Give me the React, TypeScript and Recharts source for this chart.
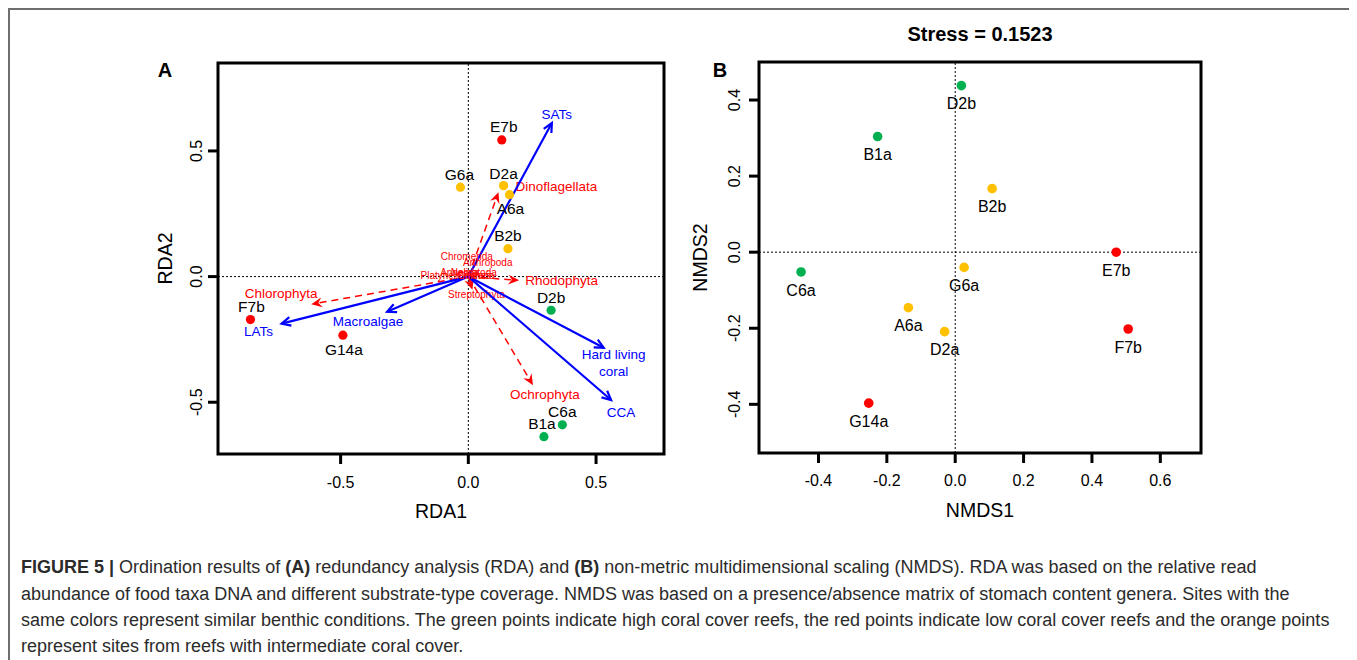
import React from 'react';
import { ScatterChart, Scatter, XAxis, YAxis, ReferenceLine, ReferenceArea } from 'recharts';

const FONT = '"Liberation Sans", Arial, Helvetica, sans-serif';

const COVER_COLORS: Record<string, string> = {
  high: '#00b050',
  low: '#ff0000',
  mid: '#ffc000',
};

// (A) RDA site scores
const rdaSites = [
  { name: 'E7b', x: 0.131, y: 0.544, cover: 'low' },
  { name: 'G6a', x: -0.031, y: 0.356, cover: 'mid' },
  { name: 'D2a', x: 0.138, y: 0.362, cover: 'mid' },
  { name: 'A6a', x: 0.161, y: 0.326, cover: 'mid' },
  { name: 'B2b', x: 0.155, y: 0.111, cover: 'mid' },
  { name: 'D2b', x: 0.324, y: -0.134, cover: 'high' },
  { name: 'F7b', x: -0.853, y: -0.171, cover: 'low' },
  { name: 'G14a', x: -0.491, y: -0.233, cover: 'low' },
  { name: 'C6a', x: 0.368, y: -0.59, cover: 'high' },
  { name: 'B1a', x: 0.296, y: -0.637, cover: 'high' },
];

// substrate vectors (blue, solid)
const substrateVectors = [
  { name: 'SATs', x: 0.327, y: 0.611 },
  { name: 'LATs', x: -0.731, y: -0.187 },
  { name: 'Macroalgae', x: -0.318, y: -0.14 },
  { name: 'Hard living coral', x: 0.53, y: -0.283 },
  { name: 'CCA', x: 0.559, y: -0.491 },
];

// food taxa vectors (red, dashed)
const taxaVectors = [
  { name: 'Dinoflagellata', x: 0.118, y: 0.336 },
  { name: 'Chlorophyta', x: -0.615, y: -0.11 },
  { name: 'Rhodophyta', x: 0.199, y: -0.015 },
  { name: 'Ochrophyta', x: 0.253, y: -0.432 },
  { name: 'Streptophyta', x: 0.016, y: -0.052 },
];

// taxa with near-zero vectors, only their labels show
const minorTaxa = [
  { name: 'Chromerida', x: -0.006, y: 0.078 },
  { name: 'Arthropoda', x: 0.076, y: 0.056 },
  { name: 'Platyhelminthes', x: -0.049, y: 0.006 },
  { name: 'Annelida', x: -0.034, y: 0.017 },
  { name: 'Nematoda', x: 0.021, y: 0.018 },
  { name: 'Cnidaria', x: 0.03, y: 0.006 },
];

// (B) NMDS site scores
const nmdsSites = [
  { name: 'D2b', x: 0.018, y: 0.438, cover: 'high' },
  { name: 'B1a', x: -0.227, y: 0.304, cover: 'high' },
  { name: 'B2b', x: 0.108, y: 0.167, cover: 'mid' },
  { name: 'E7b', x: 0.471, y: 0.0, cover: 'low' },
  { name: 'C6a', x: -0.451, y: -0.052, cover: 'high' },
  { name: 'G6a', x: 0.026, y: -0.04, cover: 'mid' },
  { name: 'A6a', x: -0.137, y: -0.146, cover: 'mid' },
  { name: 'D2a', x: -0.031, y: -0.209, cover: 'mid' },
  { name: 'F7b', x: 0.506, y: -0.202, cover: 'low' },
  { name: 'G14a', x: -0.253, y: -0.397, cover: 'low' },
];

const rdaTicks = [-0.5, 0, 0.5];
const nmdsXTicks = [-0.4, -0.2, 0, 0.2, 0.4, 0.6];
const nmdsYTicks = [-0.4, -0.2, 0, 0.2, 0.4];

const RDA_X: [number, number] = [-0.98, 0.766];
const RDA_Y: [number, number] = [-0.706, 0.85];
const NMDS_X: [number, number] = [-0.574, 0.719];
const NMDS_Y: [number, number] = [-0.528, 0.5];

// label placement (pixels from the mark), kept apart from the data
const rdaSiteLabel: Record<string, [number, number]> = {
  E7b: [2, -13], G6a: [-1, -13], D2a: [0, -12], A6a: [1, 14], B2b: [0, -13],
  D2b: [0, -13], F7b: [1, -13], G14a: [1, 14], C6a: [0, -13], B1a: [-2, -13],
};
const vectorLabel: Record<string, { dx: number; dy: number; anchor: string }> = {
  SATs: { dx: 5, dy: -9, anchor: 'middle' },
  LATs: { dx: -23, dy: 8, anchor: 'middle' },
  Macroalgae: { dx: -19, dy: 10, anchor: 'middle' },
  'Hard living coral': { dx: 10, dy: 7, anchor: 'middle' },
  CCA: { dx: 10, dy: 12, anchor: 'middle' },
  Dinoflagellata: { dx: 17, dy: -6, anchor: 'start' },
  Chlorophyta: { dx: -30, dy: -11, anchor: 'middle' },
  Rhodophyta: { dx: 6, dy: 0, anchor: 'start' },
  Ochrophyta: { dx: 12, dy: 9, anchor: 'middle' },
  Streptophyta: { dx: 4, dy: 5, anchor: 'middle' },
};

const fmt = (v: number) => v.toFixed(1);

function YTick(props: any) {
  const { x, y, payload } = props;
  return (
    <text x={x} y={y} transform={`rotate(-90 ${x} ${y})`} textAnchor="middle" fontSize={16} fill="#000" fontFamily={FONT}>
      {fmt(payload.value)}
    </text>
  );
}

function Arrow(props: any) {
  const { x1, y1, x2, y2, color, dashed, name } = props;
  const ang = Math.atan2(y2 - y1, x2 - x1);
  const lab = vectorLabel[name] || { dx: 0, dy: 0, anchor: 'middle' };
  const small = name === 'Streptophyta';
  let head;
  if (dashed) {
    const L = 12;
    const w = 0.42;
    const p1 = [x2 - L * Math.cos(ang - w), y2 - L * Math.sin(ang - w)];
    const p2 = [x2 - L * Math.cos(ang + w), y2 - L * Math.sin(ang + w)];
    const n = [x2 - 0.6 * L * Math.cos(ang), y2 - 0.6 * L * Math.sin(ang)];
    head = <path d={`M${x2},${y2}L${p1[0]},${p1[1]}L${n[0]},${n[1]}L${p2[0]},${p2[1]}Z`} fill={color} />;
  } else {
    const L = 10;
    const w = 0.45;
    head = (
      <path
        d={`M${x2 - L * Math.cos(ang - w)},${y2 - L * Math.sin(ang - w)}L${x2},${y2}L${x2 - L * Math.cos(ang + w)},${y2 - L * Math.sin(ang + w)}`}
        stroke={color}
        strokeWidth={2.2}
        fill="none"
      />
    );
  }
  const words = name === 'Hard living coral' ? ['Hard living', 'coral'] : [name];
  const lineEnd = dashed ? [x2 - 7 * Math.cos(ang), y2 - 7 * Math.sin(ang)] : [x2, y2];
  return (
    <g>
      <line
        x1={x1}
        y1={y1}
        x2={lineEnd[0]}
        y2={lineEnd[1]}
        stroke={color}
        strokeWidth={dashed ? 1.5 : 2.2}
        strokeDasharray={dashed ? '7 5' : undefined}
      />
      {head}
      {words.map((w, i) => (
        <text
          key={w}
          x={x2 + lab.dx}
          y={y2 + lab.dy + i * 17}
          dy="0.35em"
          textAnchor={lab.anchor as any}
          fontSize={small ? 10 : 13.5}
          fill={color}
          fontFamily={FONT}
        >
          {w}
        </text>
      ))}
    </g>
  );
}

function RdaPanel() {
  return (
    <ScatterChart width={700} height={530} margin={{ top: 53, right: 46, bottom: 16, left: 148 }}>
      <XAxis
        type="number"
        dataKey="x"
        domain={RDA_X}
        ticks={rdaTicks}
        allowDataOverflow
        tickFormatter={fmt}
        axisLine={false}
        tickLine={{ stroke: '#000', strokeWidth: 3 }}
        tickSize={10}
        tickMargin={13}
        height={70}
        tick={{ fontSize: 16, fill: '#000', fontFamily: FONT }}
        label={{ value: 'RDA1', position: 'insideBottom', offset: 6, style: { fontSize: 19.5, fill: '#000', fontFamily: FONT } }}
      />
      <YAxis
        type="number"
        dataKey="y"
        domain={RDA_Y}
        ticks={rdaTicks}
        allowDataOverflow
        axisLine={false}
        tickLine={{ stroke: '#000', strokeWidth: 3 }}
        tickSize={10}
        tickMargin={6}
        width={60}
        tick={<YTick />}
        label={{ value: 'RDA2', angle: -90, position: 'insideLeft', offset: 7, style: { fontSize: 19.5, fill: '#000', fontFamily: FONT, textAnchor: 'middle' } }}
      />
      <ReferenceLine x={0} stroke="#000" strokeWidth={1} strokeDasharray="2 2" />
      <ReferenceLine y={0} stroke="#000" strokeWidth={1} strokeDasharray="2 2" />
      {taxaVectors.map((v) => (
        <ReferenceLine
          key={v.name}
          segment={[{ x: 0, y: 0 }, { x: v.x, y: v.y }]}
          ifOverflow="visible"
          shape={(p: any) => <Arrow {...p} color="#ff0000" dashed name={v.name} />}
        />
      ))}
      {substrateVectors.map((v) => (
        <ReferenceLine
          key={v.name}
          segment={[{ x: 0, y: 0 }, { x: v.x, y: v.y }]}
          ifOverflow="visible"
          shape={(p: any) => <Arrow {...p} color="#0000ff" name={v.name} />}
        />
      ))}
      <Scatter
        data={minorTaxa}
        isAnimationActive={false}
        shape={(p: any) => (
          <text x={p.cx} y={p.cy} dy="0.35em" textAnchor="middle" fontSize={10} fill="#ff0000" fontFamily={FONT}>
            {p.payload.name}
          </text>
        )}
      />
      <Scatter
        data={rdaSites}
        isAnimationActive={false}
        shape={(p: any) => {
          const off = rdaSiteLabel[p.payload.name] || [0, -13];
          return (
            <g>
              <circle cx={p.cx} cy={p.cy} r={4.6} fill={COVER_COLORS[p.payload.cover]} />
              <text x={p.cx + off[0]} y={p.cy + off[1]} dy="0.35em" textAnchor="middle" fontSize={15.5} fill="#000" fontFamily={FONT}>
                {p.payload.name}
              </text>
            </g>
          );
        }}
      />
      <ReferenceArea x1={RDA_X[0]} x2={RDA_X[1]} y1={RDA_Y[0]} y2={RDA_Y[1]} fill="none" stroke="#000" strokeWidth={3} ifOverflow="visible" />
    </ScatterChart>
  );
}

function NmdsPanel() {
  return (
    <ScatterChart width={560} height={530} margin={{ top: 52, right: 49, bottom: 17, left: 9 }}>
      <XAxis
        type="number"
        dataKey="x"
        domain={NMDS_X}
        ticks={nmdsXTicks}
        allowDataOverflow
        tickFormatter={fmt}
        axisLine={false}
        tickLine={{ stroke: '#000', strokeWidth: 3 }}
        tickSize={10}
        tickMargin={12}
        height={70}
        tick={{ fontSize: 16, fill: '#000', fontFamily: FONT }}
        label={{ value: 'NMDS1', position: 'insideBottom', offset: 6, style: { fontSize: 19.5, fill: '#000', fontFamily: FONT } }}
      />
      <YAxis
        type="number"
        dataKey="y"
        domain={NMDS_Y}
        ticks={nmdsYTicks}
        allowDataOverflow
        axisLine={false}
        tickLine={{ stroke: '#000', strokeWidth: 3 }}
        tickSize={10}
        tickMargin={9}
        width={60}
        tick={<YTick />}
        label={{ value: 'NMDS2', angle: -90, position: 'insideLeft', offset: 1, style: { fontSize: 19.5, fill: '#000', fontFamily: FONT, textAnchor: 'middle' } }}
      />
      <ReferenceLine x={0} stroke="#000" strokeWidth={1} strokeDasharray="2 2" />
      <ReferenceLine y={0} stroke="#000" strokeWidth={1} strokeDasharray="2 2" />
      <Scatter
        data={nmdsSites}
        isAnimationActive={false}
        shape={(p: any) => (
          <g>
            <circle cx={p.cx} cy={p.cy} r={4.8} fill={COVER_COLORS[p.payload.cover]} />
            <text x={p.cx} y={p.cy + 18} dy="0.35em" textAnchor="middle" fontSize={16} fill="#000" fontFamily={FONT}>
              {p.payload.name}
            </text>
          </g>
        )}
      />
      <ReferenceArea x1={NMDS_X[0]} x2={NMDS_X[1]} y1={NMDS_Y[0]} y2={NMDS_Y[1]} fill="none" stroke="#000" strokeWidth={3} ifOverflow="visible" />
    </ScatterChart>
  );
}

const captionStyle: React.CSSProperties = {
  position: 'absolute',
  left: 11,
  whiteSpace: 'nowrap',
  fontSize: 18,
  color: '#2b2b2b',
  fontFamily: FONT,
  lineHeight: '22px',
};

export default function App() {
  return (
    <div
      style={{
        position: 'relative',
        width: 1348,
        height: 700,
        border: '2px solid #6e6e6e',
        boxSizing: 'border-box',
        background: '#fff',
        fontFamily: FONT,
        overflow: 'hidden',
      }}
    >
      <style>{'body{overflow:hidden}'}</style>
      <div style={{ position: 'absolute', left: 0, top: 0 }}>
        <RdaPanel />
      </div>
      <div style={{ position: 'absolute', left: 680, top: 0 }}>
        <NmdsPanel />
      </div>
      <div style={{ position: 'absolute', left: 155, top: 60, transform: 'translate(-50%,-50%)', fontSize: 20, fontWeight: 'bold' }}>A</div>
      <div style={{ position: 'absolute', left: 710, top: 60, transform: 'translate(-50%,-50%)', fontSize: 20, fontWeight: 'bold' }}>B</div>
      <div style={{ position: 'absolute', left: 970, top: 24, transform: 'translate(-50%,-50%)', fontSize: 20, fontWeight: 'bold', whiteSpace: 'nowrap' }}>
        Stress = 0.1523
      </div>
      <div style={{ ...captionStyle, top: 546 }}>
        <b>FIGURE 5 |</b> Ordination results of <b>(A)</b> redundancy analysis (RDA) and <b>(B)</b> non-metric multidimensional scaling (NMDS). RDA was based on the relative read
      </div>
      <div style={{ ...captionStyle, top: 573 }}>
        abundance of food taxa DNA and different substrate-type coverage. NMDS was based on a presence/absence matrix of stomach content genera. Sites with the
      </div>
      <div style={{ ...captionStyle, top: 599 }}>
        same colors represent similar benthic conditions. The green points indicate high coral cover reefs, the red points indicate low coral cover reefs and the orange points
      </div>
      <div style={{ ...captionStyle, top: 625 }}>represent sites from reefs with intermediate coral cover.</div>
    </div>
  );
}
